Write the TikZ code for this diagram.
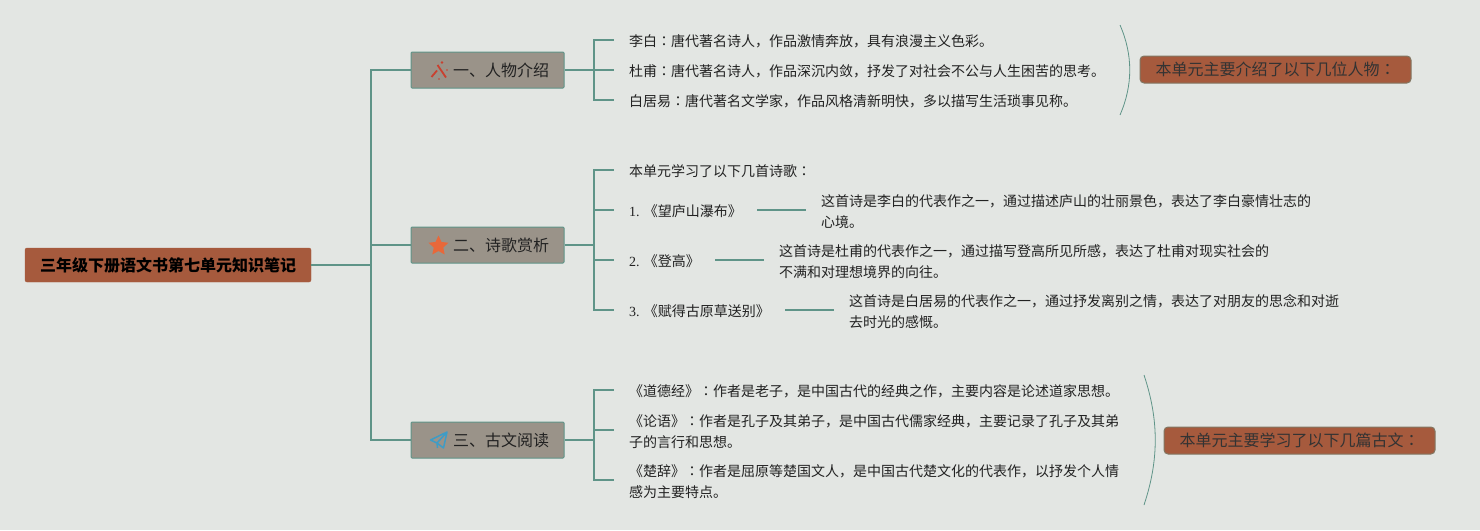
\documentclass[tikz,border=0pt]{standalone}
\usepackage{fontspec}
\usepackage{xcolor}
\setmainfont{Noto Sans CJK SC}
\newfontfamily\numfont{Liberation Serif}
\newfontfamily\colonfont{Noto Sans CJK TC}
\newcommand{\cmark}{{\colonfont ：}}
\newcommand{\lowered}[1]{\raisebox{-1pt}{#1}}
\usetikzlibrary{shapes.geometric}
\definecolor{bgpaper}{HTML}{E3E6E3}
\definecolor{linkgreen}{HTML}{5F9488}
\definecolor{rootbrown}{HTML}{A65A3D}
\definecolor{topicgray}{HTML}{9A9389}
\definecolor{inkdark}{HTML}{222222}
\definecolor{wandred}{HTML}{C9402F}
\definecolor{starorange}{HTML}{E8683A}
\definecolor{planeblue}{HTML}{3E9CC6}
\tikzset{
  rootbox/.style={draw=rootbrown, fill=rootbrown, rounded corners=2pt, minimum width=286pt, minimum height=34pt, inner sep=0pt, font=\fontsize{16}{20}\selectfont\bfseries, text=black},
  topicbox/.style={draw=linkgreen, line width=1pt, fill=topicgray, rounded corners=1pt, minimum width=153pt, minimum height=36pt, inner sep=0pt, font=\fontsize{16}{20}\selectfont, text=inkdark},
  notebox/.style={draw=linkgreen!50!rootbrown, line width=1pt, fill=rootbrown, rounded corners=4pt, minimum width=271pt, minimum height=27pt, inner sep=0pt, font=\fontsize{16}{20}\selectfont, text=black!80},
  leaftext/.style={anchor=west, align=left, inner sep=0pt, font=\fontsize{14}{21}\selectfont, text=inkdark},
  link/.style={draw=linkgreen, line width=1.8pt},
  leaflink/.style={link, shorten >=15pt},
  poemlink/.style={link, shorten <=15pt, shorten >=15pt},
  bracearc/.style={draw=linkgreen, line width=0.8pt}
}
\begin{document}
\begin{tikzpicture}[x=1pt,y=-1pt]
  \useasboundingbox (0,0) rectangle (1480,530);
  \fill[bgpaper] (0,0) rectangle (1480,530);
  % root and topics
  \node[rootbox] (root) at (168,265) {\lowered{三年级下册语文书第七单元知识笔记}};
  \node[topicbox] (topic1) at (487.5,70) {\hspace*{27pt}\lowered{一、人物介绍}};
  \node[topicbox] (topic2) at (487.5,245) {\hspace*{27pt}\lowered{二、诗歌赏析}};
  \node[topicbox] (topic3) at (487.5,440) {\hspace*{27pt}\lowered{三、古文阅读}};
  \coordinate (trunk) at (371,265);
  \coordinate (hub1) at (594,70);
  \coordinate (hub2) at (594,245);
  \coordinate (hub3) at (594,440);
  % first topic
  \node[leaftext] (figure1) at (629,41) {李白\cmark 唐代著名诗人，作品激情奔放，具有浪漫主义色彩。};
  \node[leaftext] (figure2) at (629,71) {杜甫\cmark 唐代著名诗人，作品深沉内敛，抒发了对社会不公与人生困苦的思考。};
  \node[leaftext] (figure3) at (629,101) {白居易\cmark 唐代著名文学家，作品风格清新明快，多以描写生活琐事见称。};
  % second topic
  \node[leaftext] (poemintro) at (629,171) {本单元学习了以下几首诗歌\cmark};
  \node[leaftext] (poem1) at (629,211) {{\numfont 1.} 《望庐山瀑布》};
  \node[leaftext] (poem2) at (629,261) {{\numfont 2.} 《登高》};
  \node[leaftext] (poem3) at (629,311) {{\numfont 3.} 《赋得古原草送别》};
  \node[leaftext] (comment1) at (821,212) {这首诗是李白的代表作之一，通过描述庐山的壮丽景色，表达了李白豪情壮志的\\心境。};
  \node[leaftext] (comment2) at (779,262) {这首诗是杜甫的代表作之一，通过描写登高所见所感，表达了杜甫对现实社会的\\不满和对理想境界的向往。};
  \node[leaftext] (comment3) at (849,312) {这首诗是白居易的代表作之一，通过抒发离别之情，表达了对朋友的思念和对逝\\去时光的感慨。};
  % third topic
  \node[leaftext] (classic1) at (629,391) {《道德经》\cmark 作者是老子，是中国古代的经典之作，主要内容是论述道家思想。};
  \node[leaftext] (classic2) at (629,432) {《论语》\cmark 作者是孔子及其弟子，是中国古代儒家经典，主要记录了孔子及其弟\\子的言行和思想。};
  \node[leaftext] (classic3) at (629,482) {《楚辞》\cmark 作者是屈原等楚国文人，是中国古代楚文化的代表作，以抒发个人情\\感为主要特点。};
  % notes on the right
  \node[notebox] (note1) at (1275.5,69.5) {\lowered{本单元主要介绍了以下几位人物\cmark}};
  \node[notebox] (note3) at (1299.5,440.5) {\lowered{本单元主要学习了以下几篇古文\cmark}};
  % connectors
  \draw[link] (root.east) -- (trunk);
  \draw[link] (topic1.west) -| (trunk) |- (topic3.west);
  \draw[link] (trunk) |- (topic2.west);
  \draw[link] (topic1.east) -- (hub1);
  \draw[link] (topic2.east) -- (hub2);
  \draw[link] (topic3.east) -- (hub3);
  \foreach \leaf in {figure1,figure2,figure3} \draw[leaflink] (hub1) |- ([yshift=1pt]\leaf.west);
  \foreach \leaf in {poemintro,poem1,poem2,poem3} \draw[leaflink] (hub2) |- ([yshift=1pt]\leaf.west);
  \foreach \leaf/\lift in {classic1/1pt,classic2/2pt,classic3/2pt} \draw[leaflink] (hub3) |- ([yshift=\lift]\leaf.west);
  \draw[poemlink] ([yshift=1pt]poem1.east) -- ([yshift=2pt]comment1.west);
  \draw[poemlink] ([yshift=1pt]poem2.east) -- ([yshift=2pt]comment2.west);
  \draw[poemlink] ([yshift=1pt]poem3.east) -- ([yshift=2pt]comment3.west);
  % curved brackets
  \coordinate (arc1a) at (1120,25);
  \coordinate (arc1b) at (1120,115);
  \coordinate (arc3a) at (1144,375);
  \coordinate (arc3b) at (1144,505);
  \draw[bracearc] (arc1a) .. controls (1133,55) and (1133,85) .. (arc1b);
  \draw[bracearc] (arc3a) .. controls (1159,420) and (1159,460) .. (arc3b);
  % icons
  \draw[wandred, line width=1.8pt] (437.5,65) -- (446,77.5);
  \draw[wandred, line width=1.8pt] (431.5,77) -- (437,70.5);
  \fill[wandred] (442,62.5) circle (1.3) (447,70) circle (0.9) (439,79) circle (0.9);
  \node[star, star points=5, star point ratio=2.1, fill=starorange, inner sep=0pt, minimum size=21pt] (staricon) at (438.5,246) {};
  \draw[draw=planeblue, line width=1.5pt, line join=round] (447,432) -- (430.5,440) -- (437,443) -- (443.5,448) -- cycle (447,432) -- (437,443) -- (437.5,448);
\end{tikzpicture}
\end{document}
